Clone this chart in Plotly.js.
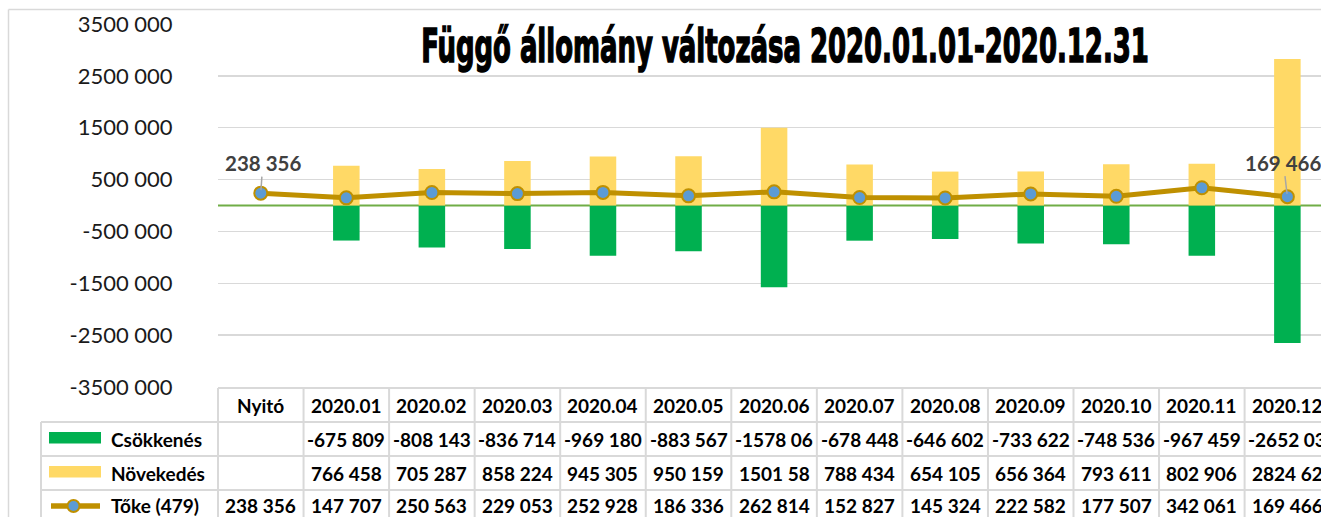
<!DOCTYPE html>
<html>
<head>
<meta charset="utf-8">
<script src="https://cdn.plot.ly/plotly-3.0.1.min.js"></script>
<style>
  html, body { margin: 0; padding: 0; background: #ffffff; overflow: hidden; }
  #chart { width: 1321px; height: 517px; }
</style>
</head>
<body>
<div id="chart"></div>
<script>
// ---------------- DATA ----------------
const categories = ['Nyitó', '2020.01', '2020.02', '2020.03', '2020.04', '2020.05', '2020.06',
                    '2020.07', '2020.08', '2020.09', '2020.10', '2020.11', '2020.12'];
const csokkenes = [null, -675809, -808143, -836714, -969180, -883567, -1578060,
                   -678448, -646602, -733622, -748536, -967459, -2652030];
const novekedes = [null, 766458, 705287, 858224, 945305, 950159, 1501580,
                   788434, 654105, 656364, 793611, 802906, 2824620];
const toke = [238356, 147707, 250563, 229053, 252928, 186336, 262814,
              152827, 145324, 222582, 177507, 342061, 169466];
const seriesNames = ['Csökkenés', 'Növekedés', 'Tőke (479)'];
const titleText = 'Függő állomány változása 2020.01.01-2020.12.31';
const yTickValues = [-3500000, -2500000, -1500000, -500000, 500000, 1500000, 2500000, 3500000];

// ---------------- HELPERS ----------------
function fmt(v) {
  if (v === null || v === undefined) return '';
  const neg = v < 0;
  const a = Math.abs(Math.round(v));
  let s = a >= 1000 ? Math.floor(a / 1000) + ' ' + String(a % 1000).padStart(3, '0') : String(a);
  return (neg ? '-' : '') + s;
}
// mimic cell clipping of the data table (approximate glyph width units)
function clipCell(s) {
  const w = ch => ch === ' ' ? 0.45 : (ch === '-' ? 0.6 : 1);
  let out = '', tot = 0;
  for (const ch of s) {
    if (tot + w(ch) > 7.3) break;
    out += ch; tot += w(ch);
  }
  return out;
}

const W = 1321, H = 517;
const M = { l: 218, r: 0, t: 24, b: 130 };
const plotW = W - M.l - M.r, plotH = H - M.t - M.b;
const catPx = 85.55;
const xRange = [-0.5, -0.5 + plotW / catPx];
const px2x = px => (px - M.l) / plotW;          // paper x
const py2y = py => (H - M.b - py) / plotH;      // paper y
const cat2px = i => M.l + (i - xRange[0]) / (xRange[1] - xRange[0]) * plotW;

const COL_GREEN = '#00B050', COL_YELLOW = '#FFD966', COL_LINE = '#BF9000', COL_MARK = '#5B9BD5';
const GRID = '#D9D9D9';
const idx = categories.map((c, i) => i);

// ---------------- TRACES ----------------
const traces = [
  { type: 'bar', name: seriesNames[0], x: idx, y: csokkenes, marker: { color: COL_GREEN, line: { width: 0 } }, hoverinfo: 'skip' },
  { type: 'bar', name: seriesNames[1], x: idx, y: novekedes, marker: { color: COL_YELLOW, line: { width: 0 } }, hoverinfo: 'skip' },
  { type: 'scatter', mode: 'lines+markers', name: seriesNames[2], x: idx, y: toke,
    line: { color: COL_LINE, width: 5 },
    marker: { size: 13, color: COL_MARK, line: { color: COL_LINE, width: 2 } }, hoverinfo: 'skip' }
];

// ---------------- TABLE (shapes + annotations) ----------------
const shapes = [];
const annotations = [];
const rowTop = [388, 422, 456, 490, 530];
const rowMid = [405, 439, 473, 506];
const tableRight = 1340, legendLeft = 41;
const lineStyle = { color: GRID, width: 2 };

// zero line (below the bars)
shapes.push({ type: 'line', xref: 'paper', yref: 'y', x0: 0, x1: 1, y0: 0, y1: 0, layer: 'below', line: { color: '#70AD47', width: 2 } });

// chart border (left + top)
shapes.push({ type: 'line', xref: 'paper', yref: 'paper', x0: px2x(8.5), x1: px2x(8.5), y0: py2y(9.5), y1: py2y(530), line: { color: GRID, width: 1.5 } });
shapes.push({ type: 'line', xref: 'paper', yref: 'paper', x0: px2x(8.5), x1: px2x(1340), y0: py2y(9.5), y1: py2y(9.5), line: { color: GRID, width: 1.5 } });

// horizontal table lines
shapes.push({ type: 'line', xref: 'paper', yref: 'paper', x0: px2x(cat2px(-0.5)), x1: px2x(tableRight), y0: py2y(rowTop[0]), y1: py2y(rowTop[0]), line: lineStyle });
for (let r = 1; r <= 3; r++) {
  shapes.push({ type: 'line', xref: 'paper', yref: 'paper', x0: px2x(legendLeft), x1: px2x(tableRight), y0: py2y(rowTop[r]), y1: py2y(rowTop[r]), line: lineStyle });
}
// vertical table lines
shapes.push({ type: 'line', xref: 'paper', yref: 'paper', x0: px2x(legendLeft), x1: px2x(legendLeft), y0: py2y(rowTop[1]), y1: py2y(rowTop[4]), line: lineStyle });
for (let i = 0; i <= categories.length; i++) {
  const xp = px2x(cat2px(i - 0.5));
  shapes.push({ type: 'line', xref: 'paper', yref: 'paper', x0: xp, x1: xp, y0: py2y(rowTop[0]), y1: py2y(rowTop[4]), line: lineStyle });
}

const tableFont = { family: 'Lato, Carlito, sans-serif', size: 19, color: '#000000', weight: 'bold' };

// header row
categories.forEach((c, i) => {
  annotations.push({ xref: 'x', yref: 'paper', x: i, y: py2y(rowMid[0]), text: c, showarrow: false,
    xanchor: 'center', yanchor: 'middle', font: tableFont });
});
// value rows
const rows = [csokkenes, novekedes, toke];
rows.forEach((arr, r) => {
  arr.forEach((v, i) => {
    if (v === null) return;
    annotations.push({ xref: 'x', yref: 'paper', x: i, y: py2y(rowMid[r + 1]), text: clipCell(fmt(v)), showarrow: false,
      xanchor: 'center', yanchor: 'middle', font: tableFont });
  });
  annotations.push({ xref: 'paper', yref: 'paper', x: px2x(109), y: py2y(rowMid[r + 1]), text: seriesNames[r], showarrow: false,
    xanchor: 'left', yanchor: 'middle', font: tableFont });
});

// legend keys
shapes.push({ type: 'rect', xref: 'paper', yref: 'paper', x0: px2x(49), x1: px2x(101), y0: py2y(432), y1: py2y(443.5), fillcolor: COL_GREEN, line: { width: 0 } });
shapes.push({ type: 'rect', xref: 'paper', yref: 'paper', x0: px2x(49), x1: px2x(101), y0: py2y(466), y1: py2y(477.5), fillcolor: COL_YELLOW, line: { width: 0 } });
shapes.push({ type: 'line', xref: 'paper', yref: 'paper', x0: px2x(51), x1: px2x(100), y0: py2y(506), y1: py2y(506), line: { color: COL_LINE, width: 5.5 } });
shapes.push({ type: 'circle', xref: 'paper', yref: 'paper', x0: px2x(67.5), x1: px2x(79.5), y0: py2y(500), y1: py2y(512), fillcolor: COL_MARK, line: { color: COL_LINE, width: 2 } });

// data labels (first & last point)
const labelFont = { family: 'Lato, Carlito, sans-serif', size: 20.5, color: '#404040', weight: 'bold' };
const last = toke.length - 1;
annotations.push({ xref: 'x', yref: 'y', x: 0, y: toke[0], text: fmt(toke[0]), showarrow: true, arrowhead: 0,
  arrowcolor: '#A6A6A6', arrowwidth: 1.5, ax: 2, ay: -30, standoff: 3, font: labelFont });
annotations.push({ xref: 'x', yref: 'y', x: last, y: toke[last], text: fmt(toke[last]), showarrow: true, arrowhead: 0,
  arrowcolor: '#A6A6A6', arrowwidth: 1.5, ax: -4, ay: -34, standoff: 3, font: labelFont });

// ---------------- LAYOUT ----------------
const layout = {
  width: W, height: H,
  margin: { l: M.l, r: M.r, t: M.t, b: M.b, pad: 0 },
  paper_bgcolor: '#ffffff', plot_bgcolor: '#ffffff',
  showlegend: false,
  barmode: 'overlay',
  bargap: 0.69,
  title: {
    text: titleText,
    font: { family: '"DejaVu Sans Condensed", "DejaVu Sans", sans-serif', size: 46, weight: 'bold', color: '#000000' },
    xref: 'container', yref: 'container', x: 785 / W, xanchor: 'center', y: 1 - 46 / H, yanchor: 'middle'
  },
  xaxis: {
    type: 'linear', range: xRange, showgrid: false, zeroline: false, showticklabels: false, ticks: '',
    showline: false, fixedrange: true
  },
  yaxis: {
    range: [-3500000, 3500000], tickmode: 'array', tickvals: yTickValues, ticktext: yTickValues.map(fmt),
    showgrid: true, gridcolor: GRID, gridwidth: 1.5,
    zeroline: false,
    ticks: 'outside', ticklen: 40, tickcolor: 'rgba(0,0,0,0)',
    tickfont: { family: 'Lato, Carlito, sans-serif', size: 22, color: '#1a1a1a' },
    showline: false, fixedrange: true
  },
  shapes: shapes,
  annotations: annotations
};

Plotly.newPlot('chart', traces, layout, { staticPlot: true, displayModeBar: false }).then(gd => {
  const t = gd.querySelector('.gtitle');
  if (t) {
    const bb = t.getBBox();
    const s = 728 / bb.width;
    t.style.transformBox = 'fill-box';
    t.style.transformOrigin = 'center';
    t.style.transform = 'scaleX(' + s + ')';
    t.style.stroke = '#000000';
    t.style.strokeWidth = '1.5px';
  }
});
</script>
</body>
</html>
